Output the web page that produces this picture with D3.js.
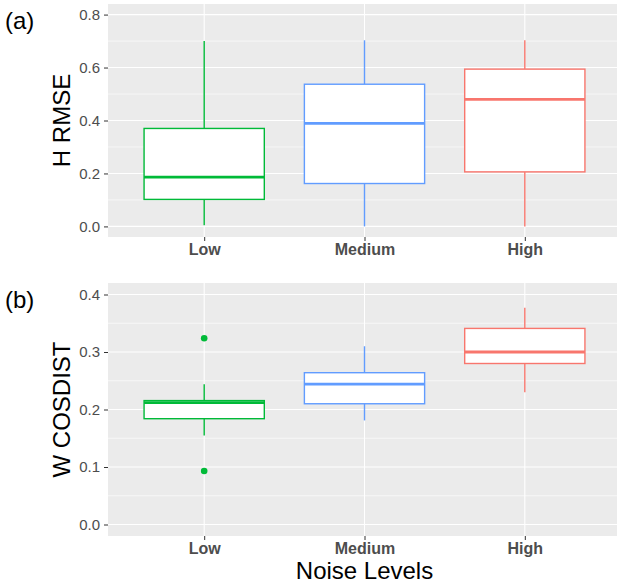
<!DOCTYPE html>
<html>
<head>
<meta charset="utf-8">
<script src="https://cdnjs.cloudflare.com/ajax/libs/d3/7.8.5/d3.min.js"></script>
<style>
  body { margin: 0; background: #fff; }
  text { font-family: "Liberation Sans", Arial, Helvetica, sans-serif; }
</style>
</head>
<body>
<div id="visualization-area"></div>
<script>

// categories + colours (ggplot default hues)
var levels = ["Low", "Medium", "High"];
var levelColors = ["#00BA38", "#619CFF", "#F8766D"];

// box stats: [lower whisker, Q1, median, Q3, upper whisker]
var rmseBoxes = [
    [0.004, 0.102, 0.186, 0.370, 0.700],
    [0.000, 0.162, 0.389, 0.537, 0.703],
    [0.000, 0.206, 0.480, 0.594, 0.703]
];
var rmseOutliers = [[], [], []];
var rmseTicks = [0, 0.2, 0.4, 0.6, 0.8];
var rmseMinor = [0.1, 0.3, 0.5, 0.7];

var cosBoxes = [
    [0.155, 0.184, 0.212, 0.2155, 0.244],
    [0.181, 0.210, 0.244, 0.264, 0.310],
    [0.230, 0.280, 0.300, 0.341, 0.377]
];
var cosOutliers = [[0.324, 0.093], [], []];
var cosTicks = [0, 0.1, 0.2, 0.3, 0.4];
var cosMinor = [0.05, 0.15, 0.25, 0.35];

var W = 617, H = 586;

var svg = d3.select("#visualization-area").append("svg")
    .attr("width", W)
    .attr("height", H);

function drawPanel(opts) {
    var left = 108, right = 621;
    var x = d3.scalePoint()
        .domain(levels)
        .range([left, right])
        .padding(0.6);
    var y = d3.scaleLinear()
        .domain(opts.domain)
        .range([opts.bottom, opts.top]);
    var boxW = x.step() * 0.75;

    var g = svg.append("g");

    g.append("rect")
        .attr("x", left)
        .attr("y", opts.top)
        .attr("width", right - left)
        .attr("height", opts.bottom - opts.top)
        .attr("fill", "#EBEBEB");

    // grid
    g.selectAll(".minor").data(opts.minor).enter().append("line")
        .attr("x1", left).attr("x2", right)
        .attr("y1", function(d) { return y(d); })
        .attr("y2", function(d) { return y(d); })
        .attr("stroke", "#fff").attr("stroke-width", 0.6);
    g.selectAll(".major").data(opts.ticks).enter().append("line")
        .attr("x1", left).attr("x2", right)
        .attr("y1", function(d) { return y(d); })
        .attr("y2", function(d) { return y(d); })
        .attr("stroke", "#fff").attr("stroke-width", 1.1);
    g.selectAll(".vgrid").data(levels).enter().append("line")
        .attr("x1", function(d) { return x(d); })
        .attr("x2", function(d) { return x(d); })
        .attr("y1", opts.top).attr("y2", opts.bottom)
        .attr("stroke", "#fff").attr("stroke-width", 1.1);

    // axes
    var yAxis = g.append("g")
        .attr("transform", "translate(" + left + ",0)")
        .call(d3.axisLeft(y).tickValues(opts.ticks).tickSize(4).tickPadding(4)
            .tickFormat(d3.format(".1f")));
    yAxis.select(".domain").remove();
    yAxis.selectAll(".tick line").attr("stroke", "#333333").attr("stroke-width", 1);
    yAxis.selectAll(".tick text")
        .attr("fill", "#4D4D4D")
        .style("font-size", "15px")
        .style("font-family", "'Liberation Sans', Arial, sans-serif");

    var xAxis = g.append("g")
        .attr("transform", "translate(0," + opts.bottom + ")")
        .call(d3.axisBottom(x).tickSize(4).tickPadding(3));
    xAxis.select(".domain").remove();
    xAxis.selectAll(".tick line").attr("stroke", "#333333").attr("stroke-width", 1);
    xAxis.selectAll(".tick text")
        .attr("fill", "#4D4D4D")
        .attr("dy", null)
        .attr("y", 18)
        .style("font-size", "16px")
        .style("font-weight", "bold")
        .style("font-family", "'Liberation Sans', Arial, sans-serif");

    // boxes
    var boxes = g.selectAll(".box").data(opts.boxes).enter().append("g")
        .attr("class", "box");

    boxes.append("line")
        .attr("x1", function(d, i) { return x(levels[i]); })
        .attr("x2", function(d, i) { return x(levels[i]); })
        .attr("y1", function(d) { return y(d[0]); })
        .attr("y2", function(d) { return y(d[1]); })
        .attr("stroke", function(d, i) { return levelColors[i]; })
        .attr("stroke-width", 1.4);
    boxes.append("line")
        .attr("x1", function(d, i) { return x(levels[i]); })
        .attr("x2", function(d, i) { return x(levels[i]); })
        .attr("y1", function(d) { return y(d[3]); })
        .attr("y2", function(d) { return y(d[4]); })
        .attr("stroke", function(d, i) { return levelColors[i]; })
        .attr("stroke-width", 1.4);
    boxes.append("rect")
        .attr("x", function(d, i) { return x(levels[i]) - boxW / 2; })
        .attr("width", boxW)
        .attr("y", function(d) { return y(d[3]); })
        .attr("height", function(d) { return y(d[1]) - y(d[3]); })
        .attr("fill", "#fff")
        .attr("stroke", function(d, i) { return levelColors[i]; })
        .attr("stroke-width", 1.4);
    boxes.append("line")
        .attr("x1", function(d, i) { return x(levels[i]) - boxW / 2; })
        .attr("x2", function(d, i) { return x(levels[i]) + boxW / 2; })
        .attr("y1", function(d) { return y(d[2]); })
        .attr("y2", function(d) { return y(d[2]); })
        .attr("stroke", function(d, i) { return levelColors[i]; })
        .attr("stroke-width", 2.8);

    opts.outliers.forEach(function(pts, i) {
        g.selectAll(".out" + i).data(pts).enter().append("circle")
            .attr("cx", x(levels[i]))
            .attr("cy", function(d) { return y(d); })
            .attr("r", 3.3)
            .attr("fill", levelColors[i]);
    });

    // titles
    g.append("text")
        .attr("transform", "translate(70," + ((opts.top + opts.bottom) / 2) + ") rotate(-90)")
        .attr("text-anchor", "middle")
        .style("font-size", "24px")
        .attr("fill", "#000")
        .text(opts.ylabel);

    g.append("text")
        .attr("x", 5)
        .attr("y", opts.top + 25)
        .style("font-size", "24px")
        .attr("fill", "#000")
        .text(opts.tag);
}

drawPanel({
    top: 4, bottom: 237, domain: [-0.04, 0.84],
    ticks: rmseTicks, minor: rmseMinor,
    boxes: rmseBoxes, outliers: rmseOutliers,
    ylabel: "H RMSE", tag: "(a)"
});

drawPanel({
    top: 283, bottom: 536, domain: [-0.02, 0.42],
    ticks: cosTicks, minor: cosMinor,
    boxes: cosBoxes, outliers: cosOutliers,
    ylabel: "W COSDIST", tag: "(b)"
});

svg.append("text")
    .attr("x", 364.5)
    .attr("y", 579)
    .attr("text-anchor", "middle")
    .style("font-size", "24px")
    .attr("fill", "#000")
    .text("Noise Levels");

</script>
</body>
</html>
